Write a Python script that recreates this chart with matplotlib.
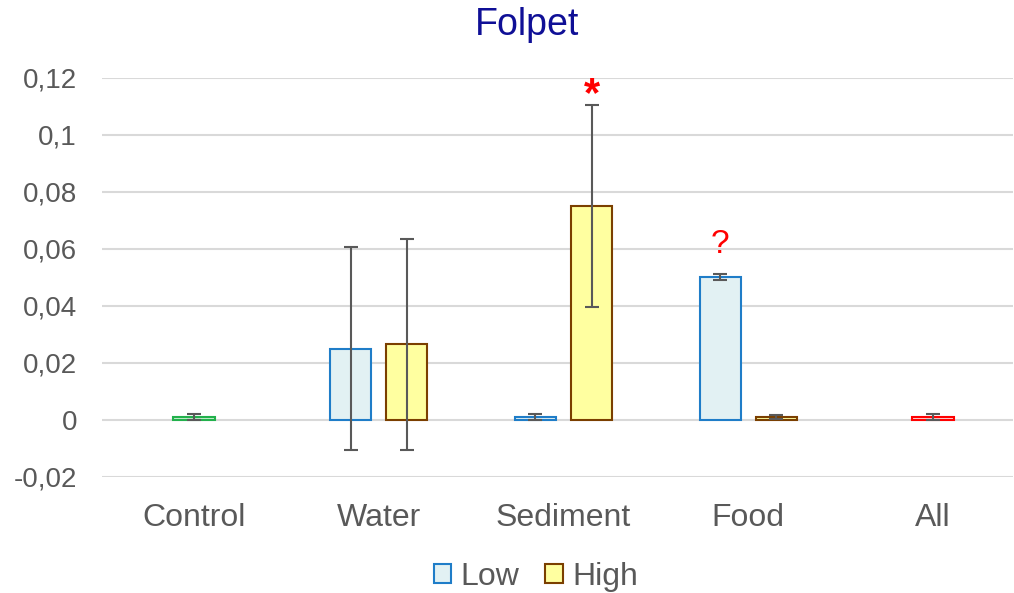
import numpy as np
import matplotlib
matplotlib.use("Agg")
import matplotlib.pyplot as plt

plt.rcParams['font.family'] = ['Liberation Sans', 'DejaVu Sans']

categories = ["Control", "Water", "Sediment", "Food", "All"]
low_vals = [0.025, 0.001, 0.050]      # Water, Sediment, Food
low_err = [0.0355, 0.001, 0.001]
high_vals = [0.0265, 0.075, 0.001]    # Water, Sediment, Food
high_err = [0.037, 0.0355, 0.0008]
control_val, control_err = 0.001, 0.001
all_val, all_err = 0.001, 0.001
yticks = [-0.02, 0, 0.02, 0.04, 0.06, 0.08, 0.1, 0.12]
ytick_labels = ["-0,02", "0", "0,02", "0,04", "0,06", "0,08", "0,1", "0,12"]

grey = "#595959"
width = 0.222
off = 0.152
ekw = dict(ecolor=grey, elinewidth=1.5, capsize=5, capthick=1.5)

fig = plt.figure(figsize=(10.14, 5.93), dpi=100)
ax = fig.add_axes([102/1014, 1-477/593, (1013-102)/1014, (477-77.7)/593])

x = np.arange(len(categories))
mid = x[1:4]
ax.bar(mid - off, low_vals, width, color="#E2F1F3", edgecolor="#1F7DC8", linewidth=1.5,
       yerr=low_err, error_kw=ekw, label="Low", zorder=3)
ax.bar(mid + off, high_vals, width, color="#FFFFA0", edgecolor="#7B3F00", linewidth=1.5,
       yerr=high_err, error_kw=ekw, label="High", zorder=3)
ax.bar([x[0]], [control_val], width, color="#C8EFD0", edgecolor="#22B14C", linewidth=1.5,
       yerr=[control_err], error_kw=ekw, zorder=3)
ax.bar([x[4]], [all_val], width, color="#FFD6D6", edgecolor="#FF0000", linewidth=1.5,
       yerr=[all_err], error_kw=ekw, zorder=3)

# significance marks
ax.text(x[2] + off, 0.1140, "*", color="red", fontsize=30, fontweight="bold",
        ha="center", va="center")
ax.text(x[3] - off, 0.0615, "?", color="red", fontsize=24, ha="center", va="center")

ax.set_xlim(-0.498, 4.433)
ax.set_ylim(-0.02, 0.12)
ax.set_yticks(yticks)
ax.set_yticklabels(ytick_labels)
ax.set_xticks(x)
ax.set_xticklabels(categories)
ax.tick_params(axis="both", length=0, colors=grey)
ax.tick_params(axis="y", pad=18, labelsize=20)
ax.tick_params(axis="x", pad=19, labelsize=23)
ax.grid(axis="y", color="#D9D9D9", linewidth=1.5, zorder=0)
for s in ax.spines.values():
    s.set_visible(False)

fig.text(0.5 + 20/1014, 1 - 25/593, "Folpet", color="#0F0F96", fontsize=27,
         ha="center", va="center")

leg = fig.legend(loc="center", bbox_to_anchor=(0.5 + 29/1014, 1 - 577/593), ncol=2,
                 frameon=False, fontsize=23, handlelength=0.55, handleheight=0.55,
                 handletextpad=0.3, columnspacing=0.8)
for t in leg.get_texts():
    t.set_color(grey)

fig.savefig("out.png", dpi=100)
